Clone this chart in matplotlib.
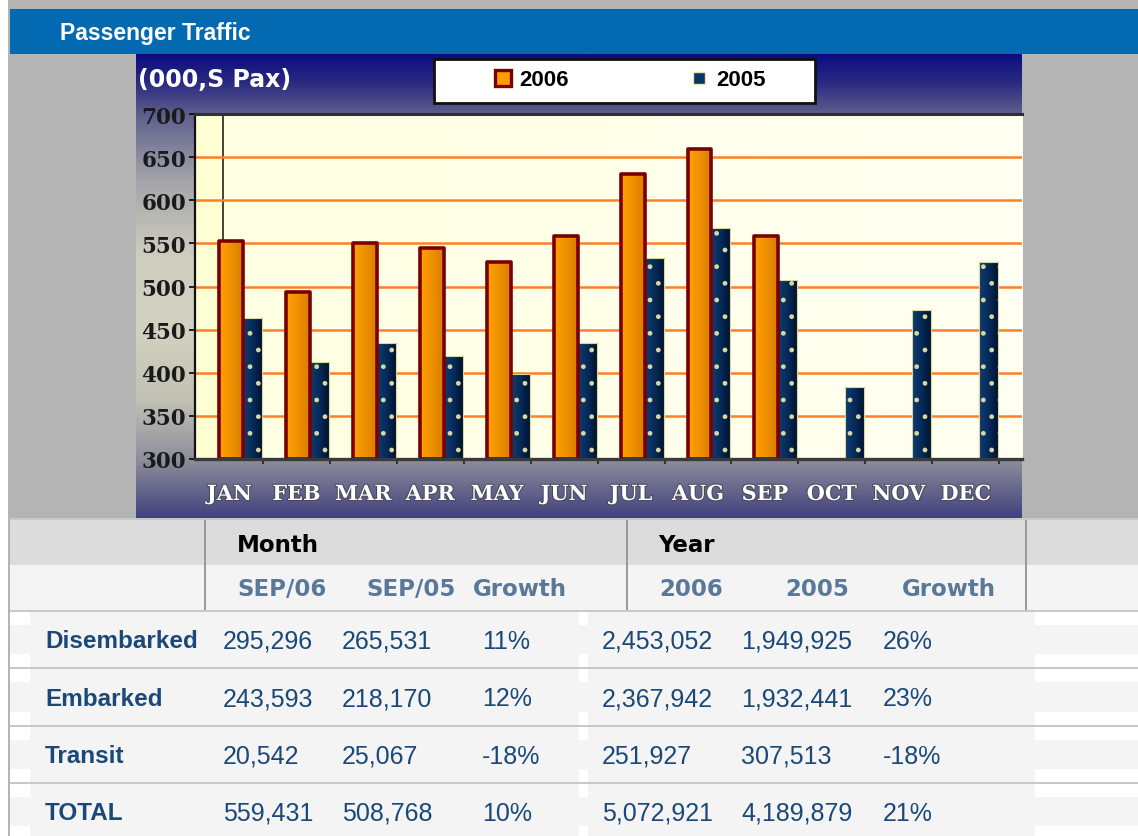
import numpy as np
import matplotlib.pyplot as plt
from matplotlib.colors import LinearSegmentedColormap
from matplotlib.patches import Rectangle
from matplotlib.lines import Line2D
import matplotlib.patheffects as pe

# chart data (000's pax)
months = ['JAN', 'FEB', 'MAR', 'APR', 'MAY', 'JUN', 'JUL', 'AUG', 'SEP', 'OCT', 'NOV', 'DEC']
pax_2006 = [553, 494, 551, 545, 528, 558, 630, 660, 559]
pax_2005 = [463, 412, 435, 419, 398, 435, 533, 568, 508, 384, 473, 528]
y_ticks = [300, 350, 400, 450, 500, 550, 600, 650, 700]

# table data
row_names = ['Disembarked', 'Embarked', 'Transit', 'TOTAL']
month_heads = ['SEP/06', 'SEP/05', 'Growth']
year_heads = ['2006', '2005', 'Growth']
month_06 = ['295,296', '243,593', '20,542', '559,431']
month_05 = ['265,531', '218,170', '25,067', '508,768']
month_growth = ['11%', '12%', '-18%', '10%']
year_06 = ['2,453,052', '2,367,942', '251,927', '5,072,921']
year_05 = ['1,949,925', '1,932,441', '307,513', '4,189,879']
year_growth = ['26%', '23%', '-18%', '21%']

W, H = 1138, 837
fig = plt.figure(figsize=(W / 100, H / 100), dpi=100)
fig.patch.set_facecolor('white')

# background axes in pixel coordinates
bg = fig.add_axes([0, 0, 1, 1])
bg.axis('off')
bg.set_zorder(0)


def rect(x0, y0, x1, y1, color, z=1):
    bg.add_patch(Rectangle((x0, y0), x1 - x0, y1 - y0, fc=color, ec='none', lw=0, zorder=z))


rect(8, 0, W, 10, '#b4b4b4')
rect(8, 0, 10, H, '#b4b4b4')
rect(10, 10, W, 55, '#0369b0')
rect(10, 55, W, 519, '#b4b4b4')
bg.text(60, 33, 'Passenger Traffic', color='white', fontsize=16.5, fontweight='bold',
        family='Liberation Sans', va='center', zorder=3)

# chart background gradient
stops = [(0.0, '#0c0c80'), (0.06, '#2a2a82'), (0.125, '#5c5c8c'), (0.27, '#a4a4aa'),
         (0.44, '#cfcfc0'), (0.6, '#d2d2c0'), (0.75, '#c0c0b4'), (0.875, '#8e8e9c'),
         (1.0, '#42427e')]
bg_cmap = LinearSegmentedColormap.from_list('chartbg', stops)
bg.imshow(np.linspace(0, 1, 256).reshape(-1, 1), extent=(136, 1022, 519, 55),
          cmap=bg_cmap, aspect='auto', interpolation='bilinear', zorder=2)
bg.text(138, 80, '(000,S Pax)', color='white', fontsize=17, fontweight='bold',
        family='DejaVu Sans', va='center', zorder=3)
bg.add_patch(Rectangle((434, 60), 381, 44, fc='white', ec='#111111', lw=2, zorder=3))

# table background
rect(10, 519, W, 521, '#c8c8c8')
rect(10, 521, W, 566, '#dcdcdc')
rect(10, 566, W, 611, '#f4f4f4')
rect(10, 611, W, 613, '#c8c8c8')
for xs in [204, 626, 1025]:
    rect(xs, 521, xs + 2, 611, '#9a9a9a')

row_top = 613
pitch = 57.3
for i in range(len(row_names)):
    top = row_top + i * pitch
    bot = top + pitch - 2
    rect(10, top + 13, W, bot - 13, '#f4f4f4')
    rect(30, top, 579, bot, '#f4f4f4')
    rect(588, top, 1035, bot, '#f4f4f4')
    if i < len(row_names) - 1:
        rect(10, bot, W, bot + 2, '#c8c8c8')

head_font = dict(family='DejaVu Sans', fontweight='bold', fontsize=16.5, va='center')
bg.text(237, 545, 'Month', color='black', **head_font)
bg.text(658, 545, 'Year', color='black', **head_font)
for x, t in zip([237, 366, 473], month_heads):
    bg.text(x, 590, t, color='#5a7898', **head_font)
for x, t in zip([659, 785, 902], year_heads):
    bg.text(x, 590, t, color='#5a7898', **head_font)

txt_col = '#1a4878'
cols = [month_06, month_05, month_growth, year_06, year_05, year_growth]
col_x = [223, 342, 482, 602, 741, 883]
for i, name in enumerate(row_names):
    yc = row_top + i * pitch + 29
    bg.text(45, yc, name, color=txt_col, fontsize=17.5, fontweight='bold',
            family='Liberation Sans', va='center')
    for x, col in zip(col_x, cols):
        bg.text(x, yc, col[i], color=txt_col, fontsize=18, family='Liberation Sans', va='center')

bg.set_xlim(0, W)
bg.set_ylim(H, 0)

# chart axes
ax = fig.add_axes([195 / W, (H - 460) / H, 827 / W, 345 / H])
ax.set_zorder(1)
xmin, xmax = -0.515, 11.84

plot_cmap = LinearSegmentedColormap.from_list('plotbg', ['#ffffe2', '#fffff2'])
ax.imshow(np.linspace(0, 1, 64).reshape(1, -1), extent=(xmin, xmax, 300, 700),
          cmap=plot_cmap, aspect='auto', zorder=0)
ax.axvspan(xmin, -0.097, color='#ffffd4', zorder=0.5, lw=0)
ax.axvline(-0.097, color='#222222', lw=1.2, zorder=0.6)
for v in y_ticks[1:-1]:
    ax.axhline(v, color='#ff7f27', lw=1.8, zorder=1)

x = np.arange(len(months))
x06 = x[:len(pax_2006)] + 0.022
x05 = x + 0.343
h06 = np.array(pax_2006) - 300
h05 = np.array(pax_2005) - 300

orange_cmap = LinearSegmentedColormap.from_list('orng', ['#ffa000', '#f09000', '#d87e00'])
navy_cmap = LinearSegmentedColormap.from_list('navy', ['#0e3c72', '#062a58', '#00112c'])
grad = np.linspace(0, 1, 32).reshape(1, -1)

bars06 = ax.bar(x06, h06, width=0.358, bottom=300, color='#f09000', lw=0, zorder=3)
for b in bars06:
    im = ax.imshow(grad, extent=(b.get_x(), b.get_x() + b.get_width(), 300, 300 + b.get_height()),
                   cmap=orange_cmap, aspect='auto', zorder=3.1, interpolation='bilinear')
    im.set_clip_path(b)
ax.bar(x06, h06, width=0.358, bottom=300, fill=False, edgecolor='#7a0000', lw=2.6,
       joinstyle='round', zorder=3.2)

bars05 = ax.bar(x05, h05, width=0.284, bottom=300, color='#062a58', lw=0, zorder=2)
for b in bars05:
    im = ax.imshow(grad, extent=(b.get_x(), b.get_x() + b.get_width(), 300, 300 + b.get_height()),
                   cmap=navy_cmap, aspect='auto', zorder=2.1, interpolation='bilinear')
    im.set_clip_path(b)
plt.rcParams['hatch.linewidth'] = 1.0
ax.bar(x05, h05, width=0.284, bottom=300, fill=False, edgecolor='#d8d8a0', hatch='.',
       lw=0.8, zorder=2.2)

ax.set_xlim(xmin, xmax)
ax.set_ylim(300, 700)

ax.spines['right'].set_visible(False)
ax.spines['top'].set_color('#303030')
ax.spines['top'].set_linewidth(2.2)
ax.spines['left'].set_color('#111111')
ax.spines['left'].set_linewidth(1.6)
ax.spines['bottom'].set_color('#3a3a3a')
ax.spines['bottom'].set_linewidth(2.4)
for sp in ax.spines.values():
    sp.set_zorder(5)

ax.set_yticks(y_ticks)
ax.set_yticklabels([str(v) for v in y_ticks], family='DejaVu Serif', fontweight='bold',
                   fontsize=15.5, color='#1a1a1a')
ax.tick_params(axis='y', direction='out', length=4.5, width=1.3, color='#111111', pad=2)

ax.set_xticks(np.arange(len(months)) + 0.5)
ax.set_xticklabels([])
ax.tick_params(axis='x', which='major', direction='out', length=3.5, width=1.5, color='#333333')
ax.set_xticks(x, minor=True)
ax.set_xticklabels(months, minor=True, family='DejaVu Serif', fontweight='bold',
                   fontsize=15, color='white')
ax.tick_params(axis='x', which='minor', length=0, pad=18)
for lab in ax.get_xticklabels(minor=True):
    lab.set_path_effects([pe.withStroke(linewidth=1.5, foreground='#4a4a5a')])

# legend
h1 = Line2D([], [], marker='s', ls='none', markersize=11, markerfacecolor='#ff9c00',
            markeredgecolor='#7a0000', markeredgewidth=2.4)
h2 = Line2D([], [], marker='s', ls='none', markersize=9, markerfacecolor='#0a3566',
            markeredgecolor='#e6e6b0', markeredgewidth=1)
leg = fig.legend([h1, h2], ['2006', '2005'], loc='center',
                 bbox_to_anchor=(628 / W, 1 - 81 / H), ncol=2, frameon=False,
                 columnspacing=5.3, handletextpad=0.2, handlelength=1.1,
                 prop=dict(family='Liberation Sans', weight='bold', size=16))

fig.savefig('out.png', dpi=100)
